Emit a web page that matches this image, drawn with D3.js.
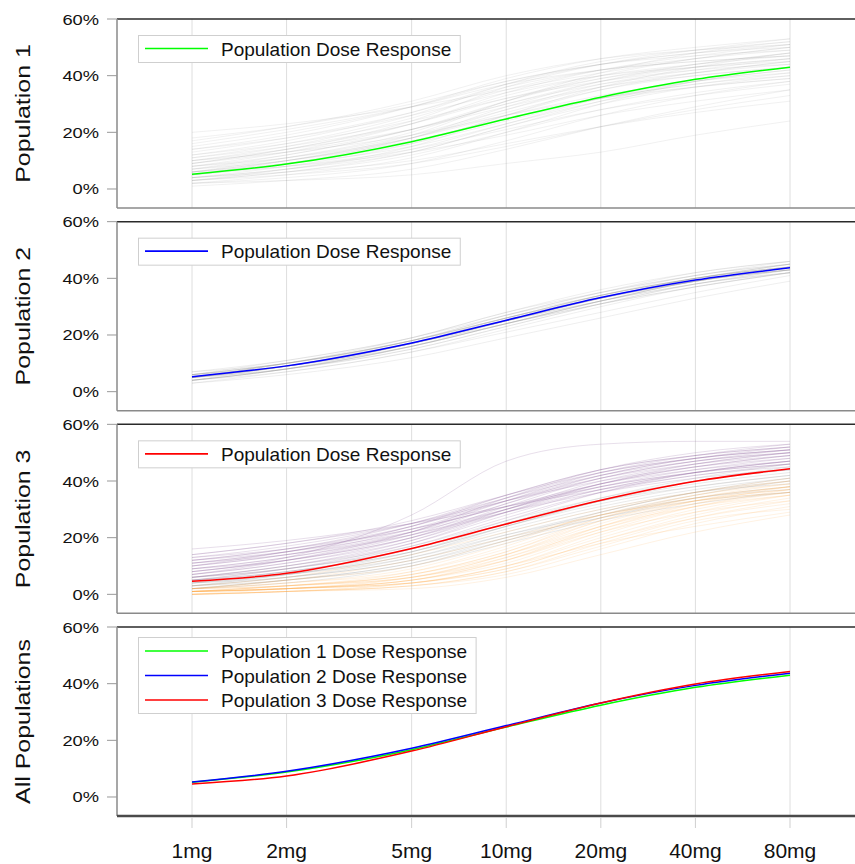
<!DOCTYPE html>
<html>
<head>
<meta charset="utf-8">
<script src="https://cdn.jsdelivr.net/npm/d3@7"></script>
<style>
  body { margin: 0; background: #fff; }
  svg { display: block; font-family: "Liberation Sans", Arial, sans-serif; }
</style>
</head>
<body>
<div id="graph"></div>
<script>
// data (response in %)
var doses = [1, 2, 5, 10, 20, 40, 80];
var doseLabels = ["1mg", "2mg", "5mg", "10mg", "20mg", "40mg", "80mg"];
var yTicks = [0, 0.2, 0.4, 0.6];
var panelTitles = ["Population 1", "Population 2", "Population 3", "All Populations"];

var pop1Mean = [5.2, 8.8, 16.7, 24.7, 32.4, 38.7, 43.0];
var pop2Mean = [5.3, 9.1, 17.2, 25.2, 33.2, 39.4, 43.7];
var pop3Mean = [4.6, 7.4, 16.2, 24.8, 33.2, 39.9, 44.3];

var pop1Subjects = [
  [2,3,5,9,13,19,24], [20,23,29,35,41,46,50], [4,6,10,16,22,27,31], [3,5,9,15,22,28,33],
  [6,8,13,19,26,31,35], [5,8,14,21,28,33,37], [7,10,17,25,32,37,40], [3,6,12,20,28,34,38],
  [8,11,18,26,33,38,41], [4,7,13,22,30,36,40], [10,14,21,29,36,40,43], [5,9,16,24,32,37,41],
  [12,16,24,32,38,42,44], [6,10,18,27,35,40,43], [3,6,13,22,31,38,42], [9,13,21,30,37,41,44],
  [14,18,26,34,40,43,45], [7,11,19,28,36,41,45], [2,5,11,20,30,38,43], [11,15,23,32,39,43,46],
  [6,10,18,28,37,42,46], [16,21,29,37,42,45,47], [8,12,21,30,38,43,46], [4,8,16,26,35,41,45],
  [13,18,27,36,42,45,47], [9,14,23,33,40,44,47], [5,9,18,29,38,44,48], [15,20,29,38,44,47,49],
  [7,12,21,31,39,44,48], [10,15,25,35,42,46,49], [3,7,15,26,36,43,48], [12,17,27,37,44,48,50],
  [6,11,20,31,40,46,50], [17,22,31,40,46,49,51], [8,13,23,34,42,47,51], [11,16,26,37,45,49,52],
  [5,10,19,31,41,48,52], [14,19,29,39,46,50,53], [9,14,24,36,44,49,53], [18,22,30,38,44,48,51],
  [4,7,14,23,32,38,42], [2,4,9,17,26,33,38], [6,9,15,23,31,36,39], [1,3,7,14,22,29,35],
  [10,13,19,26,32,36,39]
];

var pop2Subjects = [
  [5,9,17,25,33,39,44], [6,10,18,26,34,40,44], [4,8,16,24,32,39,43], [5,9,18,26,34,40,45],
  [6,10,17,25,32,38,42], [4,8,15,23,31,38,43], [5,9,17,26,34,41,45], [7,11,19,27,34,40,44],
  [3,7,14,22,30,37,42], [5,10,18,27,35,41,45], [6,9,16,24,31,37,42], [4,8,17,25,33,40,44],
  [5,9,16,24,32,39,44], [6,11,19,28,35,41,46], [4,7,14,21,28,35,41], [5,9,17,25,33,40,44],
  [6,10,18,25,33,39,43], [5,8,16,24,32,38,43], [7,10,18,26,33,39,43], [4,8,16,25,33,40,45],
  [5,9,17,26,33,39,44], [3,6,12,19,26,33,39], [5,10,19,28,36,42,46], [6,9,17,25,32,39,43],
  [4,9,17,25,34,40,45], [5,8,15,23,31,38,42], [6,10,18,26,34,40,44], [5,9,17,24,32,39,43],
  [4,8,16,24,31,37,42], [5,10,18,27,35,42,46]
];

// population 3 has three sub-groups
var pop3High = [
  [16,19,25,31,37,42,46], [14,18,25,33,40,45,48], [8,13,28,47,53,54,54], [12,16,24,33,41,46,49],
  [10,14,22,32,41,47,50], [11,15,23,31,39,44,47], [9,13,21,30,39,45,49], [7,11,20,31,41,47,51],
  [13,17,25,34,42,47,50], [6,10,19,30,40,46,50], [10,14,23,33,42,48,51], [8,12,21,32,42,48,52],
  [12,16,25,35,44,49,52], [5,9,18,29,39,46,50], [9,13,22,33,43,49,53], [11,15,24,34,43,48,51],
  [7,11,19,29,38,44,48], [6,10,18,28,37,43,47], [14,18,26,35,43,48,51], [8,12,20,30,39,45,49],
  [10,15,24,35,44,49,52], [5,8,16,26,36,43,47], [12,15,22,30,38,43,46], [9,12,20,29,37,43,47],
  [7,12,22,34,44,50,53], [11,14,21,29,36,41,44], [6,9,17,27,36,42,45], [13,16,23,31,38,43,46]
];
var pop3Mid = [
  [4,7,14,23,31,37,41], [3,6,12,21,29,36,40], [5,8,15,24,32,38,42], [2,5,11,20,29,36,41],
  [6,9,16,25,33,39,43], [3,6,13,22,30,36,39], [4,8,15,24,33,40,44], [5,7,13,21,28,34,37],
  [2,4,10,19,28,35,40], [6,10,17,26,34,40,44], [3,7,14,24,33,40,45], [4,6,12,20,27,33,36],
  [5,9,16,25,33,38,42], [3,5,11,19,27,34,38], [4,7,15,25,34,41,46], [2,5,10,18,26,32,36]
];
var pop3Low = [
  [1,2,5,12,24,33,38], [0,1,4,10,21,30,35], [1,3,7,15,27,35,40], [2,3,6,13,23,31,36],
  [0,1,3,8,18,27,33], [1,2,6,14,26,34,39], [1,2,4,9,19,28,34], [2,4,8,16,27,34,38],
  [0,1,3,7,16,25,31], [1,3,6,14,25,33,37], [1,2,5,11,22,31,37], [0,1,2,6,14,22,28],
  [2,3,7,15,26,33,37], [1,2,4,10,20,29,35], [0,2,5,12,23,32,38], [1,3,8,17,28,35,39],
  [1,2,5,13,24,32,36], [0,1,4,9,19,27,32], [2,4,9,18,29,36,41], [1,2,6,12,22,29,33],
  [0,1,3,8,17,26,30], [1,3,7,14,24,31,35], [2,5,10,19,28,33,36], [1,2,4,10,18,24,29],
  [3,6,14,22,30,36,40], [2,5,12,20,28,34,38]
];

//setting dimension
var width = 855, height = 864;
var plotLeft = 117, plotRight = 855;
var panelTop = 19, panelStep = 202.67, panelH = 189;

var x = d3.scaleLog().domain([1, 80]).range([192, 790]);
var y = d3.scaleLinear().domain([-0.0671, 0.6]).range([panelH, 0]);

var line = d3.line()
    .x(function(d, i) { return x(doses[i]); })
    .y(function(d) { return y(d / 100); })
    .curve(d3.curveMonotoneX);

var panels = [
  { subjects: [{ data: pop1Subjects, color: "#8c8c8c", op: 0.12 }],
    mains: [{ vals: pop1Mean, color: "#00ff00", label: "Population Dose Response" }] },
  { subjects: [{ data: pop2Subjects, color: "#8c8c8c", op: 0.14 }],
    mains: [{ vals: pop2Mean, color: "#0000ff", label: "Population Dose Response" }] },
  { subjects: [{ data: pop3Mid, color: "#8c8c8c", op: 0.18 },
               { data: pop3Low, color: "#ffa238", op: 0.14 },
               { data: pop3High, color: "#8b5e9b", op: 0.2 }],
    mains: [{ vals: pop3Mean, color: "#ff0000", label: "Population Dose Response" }] },
  { subjects: [],
    mains: [{ vals: pop1Mean, color: "#00ff00", label: "Population 1 Dose Response" },
            { vals: pop2Mean, color: "#0000ff", label: "Population 2 Dose Response" },
            { vals: pop3Mean, color: "#ff0000", label: "Population 3 Dose Response" }] }
];

var svg = d3.select("div#graph")
    .append("svg")
    .attr("width", width)
    .attr("height", height);

panels.forEach(function(p, k) {
  var top = panelTop + k * panelStep;
  var g = svg.append("g").attr("transform", "translate(0," + top + ")");

  // vertical grid
  g.selectAll("line.grid")
    .data(doses)
    .enter()
    .append("line")
    .attr("x1", function(d) { return x(d); })
    .attr("x2", function(d) { return x(d); })
    .attr("y1", 0)
    .attr("y2", panelH)
    .attr("stroke", "#dedede")
    .attr("stroke-width", 1);

  // individual subjects
  p.subjects.forEach(function(s) {
    g.append("g").selectAll("path")
      .data(s.data)
      .enter()
      .append("path")
      .attr("d", line)
      .attr("fill", "none")
      .attr("stroke", s.color)
      .attr("stroke-opacity", s.op)
      .attr("stroke-width", 1);
  });

  // population curves
  g.append("g").selectAll("path")
    .data(p.mains)
    .enter()
    .append("path")
    .attr("d", function(d) { return line(d.vals); })
    .attr("fill", "none")
    .attr("stroke", function(d) { return d.color; })
    .attr("stroke-width", 1.5);

  // frame
  g.append("line").attr("x1", plotLeft).attr("x2", plotRight).attr("y1", 0).attr("y2", 0)
    .attr("stroke", "#2a2a2a").attr("stroke-width", 1.5);
  g.append("line").attr("x1", plotLeft).attr("x2", plotLeft).attr("y1", 0).attr("y2", panelH)
    .attr("stroke", "#8a8a8a").attr("stroke-width", 1.5);
  g.append("line").attr("x1", plotLeft).attr("x2", plotRight).attr("y1", panelH).attr("y2", panelH)
    .attr("stroke", k == 3 ? "#4a4a4a" : "#8a8a8a")
    .attr("stroke-width", k == 3 ? 2.5 : 1.5);

  // y ticks
  g.selectAll("line.ytick")
    .data(yTicks)
    .enter()
    .append("line")
    .attr("x1", 107).attr("x2", plotLeft)
    .attr("y1", function(d) { return y(d); })
    .attr("y2", function(d) { return y(d); })
    .attr("stroke", "#999");

  g.selectAll("text.ytick")
    .data(yTicks)
    .enter()
    .append("text")
    .attr("transform", function(d) { return "translate(99," + (y(d) + 5.5) + ") scale(1.18,1)"; })
    .attr("text-anchor", "end")
    .style("font-size", "15.5px")
    .attr("fill", "#111")
    .text(function(d) { return Math.round(d * 100) + "%"; });

  // panel title
  g.append("text")
    .attr("transform", "translate(30," + (panelH / 2) + ") rotate(-90) scale(1.28,1)")
    .attr("text-anchor", "middle")
    .style("font-size", "19.5px")
    .attr("fill", "#111")
    .text(panelTitles[k]);

  // legend
  var legTop = p.mains.length > 1 ? 10 : 16;
  var rowH = 24.5;
  var leg = g.append("g");
  var box = leg.append("rect")
    .attr("x", 138.5)
    .attr("y", legTop + 0.5)
    .attr("height", p.mains.length > 1 ? 76 : 27)
    .attr("fill", "#fff")
    .attr("stroke", "#cfcfcf");
  var maxLen = 0;
  p.mains.forEach(function(m, i) {
    var cy = legTop + (p.mains.length > 1 ? 14 : 13.5) + i * rowH;
    leg.append("line")
      .attr("x1", 145).attr("x2", 208)
      .attr("y1", cy).attr("y2", cy)
      .attr("stroke", m.color)
      .attr("stroke-width", 1.6);
    var t = leg.append("text")
      .attr("x", 221)
      .attr("y", cy + 7)
      .style("font-size", "19px")
      .attr("fill", "#111")
      .text(m.label);
    maxLen = Math.max(maxLen, t.node().getComputedTextLength());
  });
  box.attr("width", 221 + maxLen + 9 - 138.5);
});

// bottom dose axis
var axisTop = panelTop + 3 * panelStep + panelH;
svg.selectAll("line.xtick")
  .data(doses)
  .enter()
  .append("line")
  .attr("x1", function(d) { return x(d); })
  .attr("x2", function(d) { return x(d); })
  .attr("y1", axisTop + 1)
  .attr("y2", axisTop + 12)
  .attr("stroke", "#cfcfcf");

svg.selectAll("text.xtick")
  .data(doses)
  .enter()
  .append("text")
  .attr("x", function(d) { return x(d); })
  .attr("y", 858)
  .attr("text-anchor", "middle")
  .style("font-size", "21px")
  .attr("fill", "#111")
  .text(function(d, i) { return doseLabels[i]; });
</script>
</body>
</html>
